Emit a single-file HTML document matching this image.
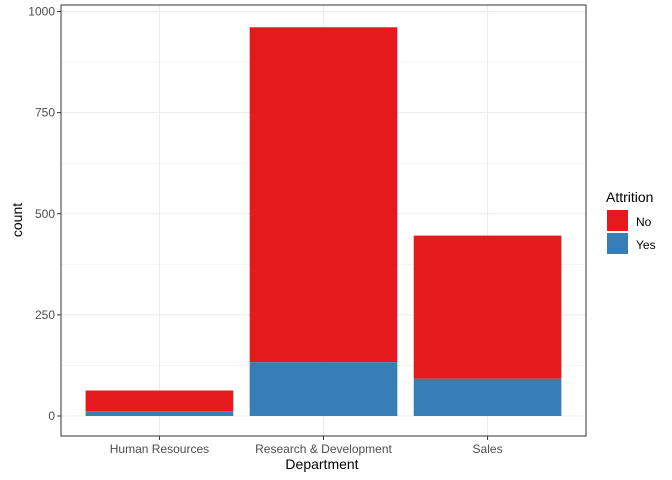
<!DOCTYPE html>
<html><head><meta charset="utf-8"><style>
body{margin:0;background:#fff}
svg{display:block;font-family:"Liberation Sans",Arial,sans-serif}
</style></head><body>
<svg id="chart" width="672" height="480">
<rect x="0" y="0" width="672" height="480" fill="#fff"/>
<g id="grid"></g><g id="bars"></g><g id="axes"></g>
<text x="322" y="469" text-anchor="middle" font-size="14" fill="#000">Department</text>
<text transform="translate(22,220) rotate(-90)" text-anchor="middle" font-size="14" fill="#000">count</text>
<g>
<text x="606" y="202" font-size="14" fill="#000">Attrition</text>
<g><rect x="607" y="210" width="21" height="21" fill="#E41A1C"/><text x="636" y="226" font-size="12" fill="#000">No</text></g>
<g><rect x="607" y="233" width="21" height="21" fill="#377EB8"/><text x="636" y="249" font-size="12" fill="#000">Yes</text></g>
</g>
</svg>
<script>
const categories=["Human Resources","Research & Development","Sales"];
const noValues=[51,828,354];
const yesValues=[12,133,92];
const yTicks=[0,250,500,750,1000];
const NS="http://www.w3.org/2000/svg";
const px0=61,px1=586,py0=5,py1=436;
const y=v=>416-v*0.4045;
const unit=(px1-px0)/(categories.length-1+1.2);
const xc=i=>px0+unit*(i+0.6);
const bw=unit*0.9;
function mk(tag,attrs,parent){const e=document.createElementNS(NS,tag);for(const k in attrs)e.setAttribute(k,attrs[k]);document.getElementById(parent).appendChild(e);return e;}
for(let i=0;i<yTicks.length-1;i++){const v=(yTicks[i]+yTicks[i+1])/2;const l=mk('line',{x1:px0,x2:px1,y1:y(v),y2:y(v),stroke:'#ebebeb','stroke-width':0.5},'grid');}
yTicks.forEach(t=>{const l=mk('line',{x1:px0,x2:px1,y1:y(t),y2:y(t),stroke:'#ebebeb','stroke-width':1},'grid');
const tk=mk('line',{x1:57,x2:px0,y1:y(t),y2:y(t),stroke:'#333'},'axes');
const tx=mk('text',{x:55,y:y(t)+4,'text-anchor':'end','font-size':12,fill:'#4d4d4d'},'axes');tx.textContent=t;});
categories.forEach((c,i)=>{const l=mk('line',{x1:xc(i),x2:xc(i),y1:py0,y2:py1,stroke:'#ebebeb'},'grid');
const tot=noValues[i]+yesValues[i];
const r1=mk('rect',{x:xc(i)-bw/2,y:y(tot),width:bw,height:y(yesValues[i])-y(tot),fill:'#E41A1C'},'bars');
const r2=mk('rect',{x:xc(i)-bw/2,y:y(yesValues[i]),width:bw,height:y(0)-y(yesValues[i]),fill:'#377EB8'},'bars');
const tk=mk('line',{x1:xc(i),x2:xc(i),y1:py1,y2:py1+4,stroke:'#333'},'axes');
const tx=mk('text',{x:xc(i),y:453,'text-anchor':'middle','font-size':12,fill:'#4d4d4d'},'axes');tx.textContent=c;});
const fr=mk('rect',{x:px0,y:py0,width:px1-px0,height:py1-py0,fill:'none',stroke:'#333','stroke-width':1},'axes');


</script>
</body></html>
